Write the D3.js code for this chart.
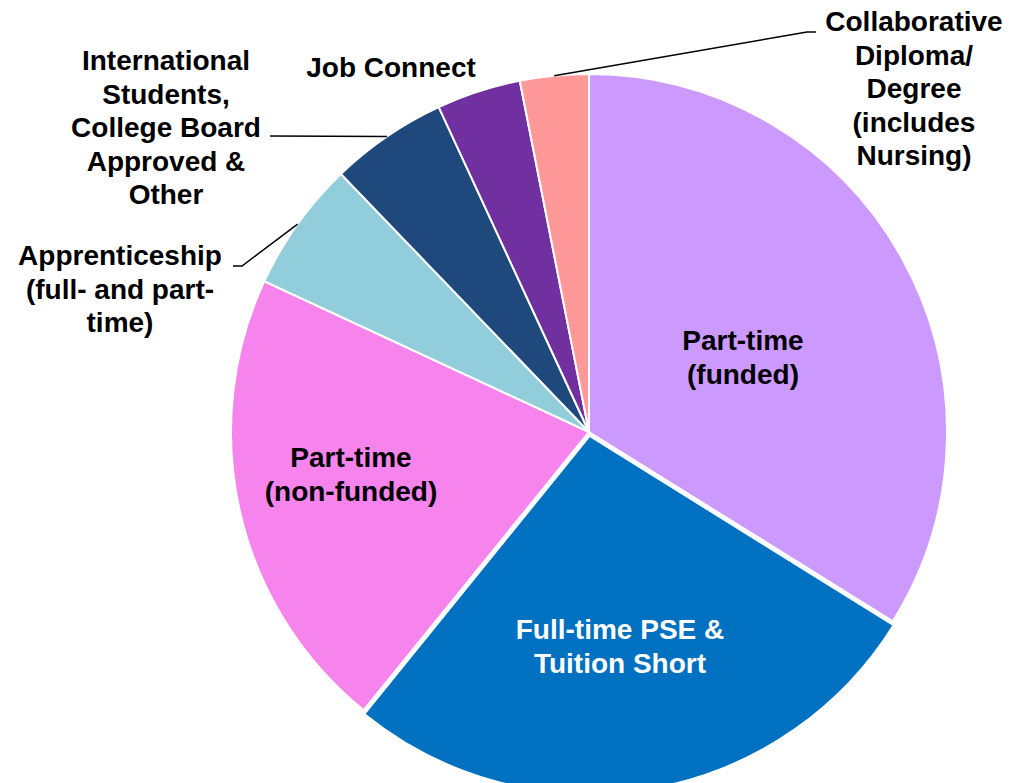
<!DOCTYPE html>
<html>
<head>
<meta charset="utf-8">
<script src="https://cdn.jsdelivr.net/npm/d3@7"></script>
<style>
  body { margin: 0; background: #fff; }
  text { font-family: 'Liberation Sans', Arial, sans-serif; font-weight: bold; }
</style>
</head>
<body>
<script>
var width = 1009;
var height = 783;

// Data (share of total, %), clockwise from 12 o'clock.
var categories = [
  'Part-time (funded)',
  'Full-time PSE & Tuition Short',
  'Part-time (non-funded)',
  'Apprenticeship (full- and part-time)',
  'International Students, College Board Approved & Other',
  'Job Connect',
  'Collaborative Diploma/ Degree (includes Nursing)'
];
var values = [33.9, 27.0, 21.1, 5.9, 5.3, 3.8, 3.1];
var labelLines = [
  ['Part-time', '(funded)'],
  ['Full-time PSE &', 'Tuition Short'],
  ['Part-time', '(non-funded)'],
  ['Apprenticeship', '(full- and part-', 'time)'],
  ['International', 'Students,', 'College Board', 'Approved &', 'Other'],
  ['Job Connect'],
  ['Collaborative', 'Diploma/', 'Degree', '(includes', 'Nursing)']
];
var colors = ['#CC99FF', '#0070C0', '#F783EC', '#92CDDC', '#1F497D', '#7030A0', '#FF9999'];

// Layout for labels (x, first baseline) and leader line elbows.
var cx = 589, cy = 432, radius = 358;
var lineHeight = 33.5;
var labelPos = [
  {x: 743, y: 350, fill: '#000'},
  {x: 620, y: 639, fill: '#fff'},
  {x: 351, y: 467, fill: '#000'},
  {x: 120, y: 265, fill: '#000'},
  {x: 166, y: 70, fill: '#000'},
  {x: 391, y: 77, fill: '#000'},
  {x: 914, y: 31, fill: '#000'}
];
var leaders = {
  3: [[242, 266], [233, 266]],
  4: [[270, 136]],
  6: [[807, 32], [816, 32]]
};

var svg = d3.select('body')
  .append('svg')
  .attr('width', width)
  .attr('height', height);

var pie = d3.pie().sort(null).value(function(d) { return d; });
var arcs = pie(values);

var arc = d3.arc().innerRadius(0).outerRadius(radius);
var edgeArc = d3.arc().innerRadius(radius).outerRadius(radius);

var g = svg.append('g').attr('transform', 'translate(' + cx + ',' + cy + ')');

// Slices (Full-time slightly pulled out, as in the original).
g.selectAll('path.slice')
  .data(arcs)
  .enter().append('path')
  .attr('class', 'slice')
  .attr('d', arc)
  .attr('fill', function(d, i) { return colors[i]; })
  .attr('stroke', '#fff')
  .attr('stroke-width', 2)
  .attr('transform', function(d, i) {
    if (i !== 1) return null;
    var a = (d.startAngle + d.endAngle) / 2;
    return 'translate(' + (4 * Math.sin(a)) + ',' + (-4 * Math.cos(a)) + ')';
  });

// Leader lines.
var line = d3.line();
Object.keys(leaders).forEach(function(k) {
  var i = +k;
  var c = edgeArc.centroid(arcs[i]);
  var pts = [[cx + c[0], cy + c[1]]].concat(leaders[k]);
  svg.append('path')
    .attr('d', line(pts))
    .attr('fill', 'none')
    .attr('stroke', '#000')
    .attr('stroke-width', 1.5);
});

// Labels.
var label = svg.append('g')
  .selectAll('text')
  .data(arcs)
  .enter().append('text')
  .attr('text-anchor', 'middle')
  .attr('font-size', 28)
  .attr('fill', function(d, i) { return labelPos[i].fill; })
  .attr('x', function(d, i) { return labelPos[i].x; })
  .attr('y', function(d, i) { return labelPos[i].y; });

label.each(function(d, i) {
  var t = d3.select(this);
  labelLines[i].forEach(function(s, j) {
    t.append('tspan')
      .attr('x', labelPos[i].x)
      .attr('dy', j === 0 ? 0 : lineHeight)
      .text(s);
  });
});
</script>
</body>
</html>
